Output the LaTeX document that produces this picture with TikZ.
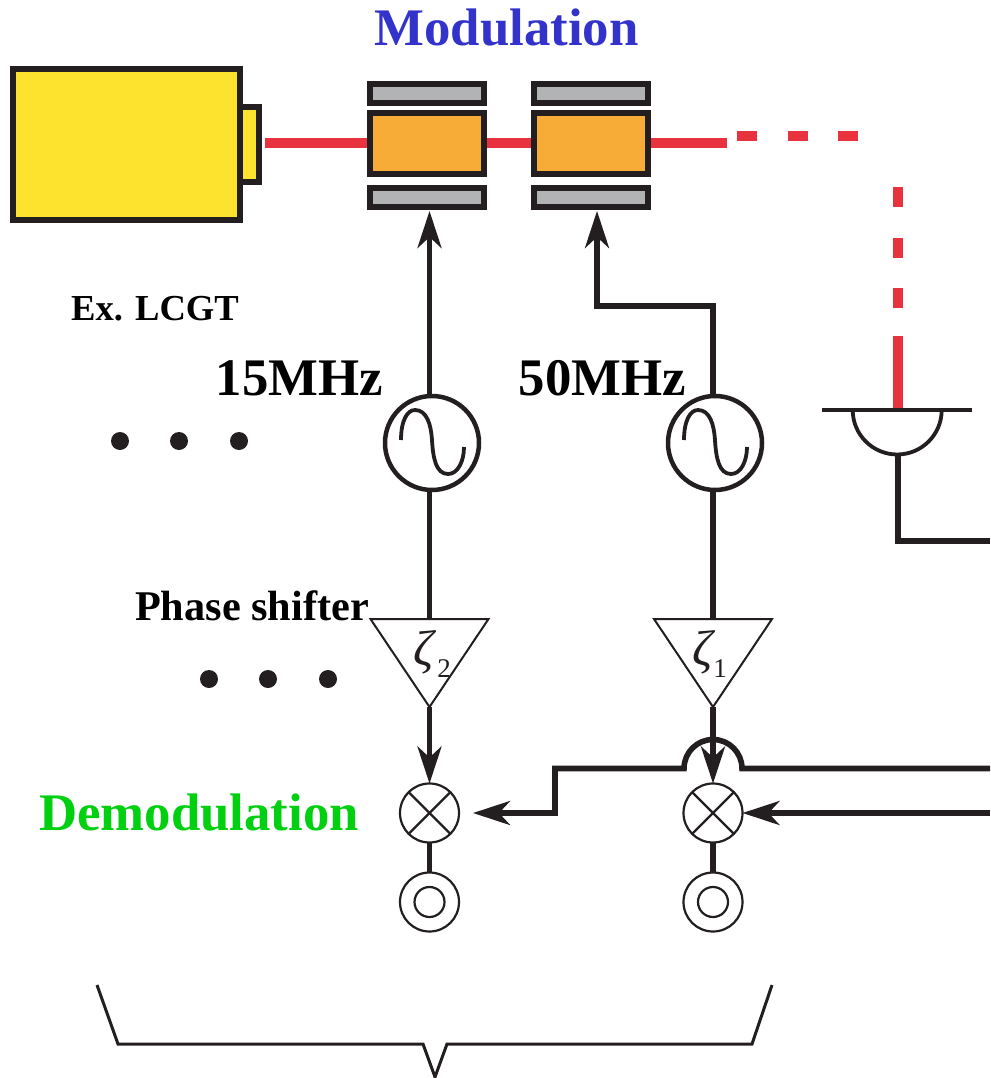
\documentclass[tikz,border=0pt]{standalone}
\usepackage{fontspec}
\setmainfont{Liberation Serif}
\usetikzlibrary{arrows.meta,shapes.geometric,calc}
\definecolor{ink}{HTML}{231F20}
\definecolor{beamred}{HTML}{E8333F}
\definecolor{laseryellow}{HTML}{FEE32E}
\definecolor{eomorange}{HTML}{F7AC38}
\definecolor{plategray}{HTML}{B1B3B5}
\definecolor{modblue}{HTML}{3333CC}
\definecolor{demodgreen}{HTML}{00D010}
\newcommand{\fs}[1]{\fontsize{#1}{#1}\selectfont}
\tikzset{
  box/.style={draw=ink,line width=5.5pt,rectangle,inner sep=0pt,outer sep=0pt},
  platebox/.style={box,fill=plategray,minimum width=114pt,minimum height=19pt},
  eombox/.style={box,fill=eomorange,minimum width=114pt,minimum height=61pt},
  oscnode/.style={draw=ink,circle,line width=4.5pt,minimum size=94pt,inner sep=0pt,outer sep=0pt,fill=white},
  mixnode/.style={draw=ink,circle,line width=2.2pt,minimum size=59pt,inner sep=0pt,outer sep=0pt,fill=white},
  outnode/.style={draw=ink,circle,line width=2.2pt,minimum size=59pt,inner sep=0pt,outer sep=0pt,fill=white},
  innode/.style={draw=ink,circle,line width=2.2pt,minimum size=30pt,inner sep=0pt,outer sep=0pt},
  shifter/.style={draw=ink,isosceles triangle,isosceles triangle stretches,shape border rotate=270,
    minimum width=118pt,minimum height=88pt,inner sep=0pt,outer sep=0pt,line width=2pt,anchor=apex,fill=white},
  wire/.style={draw=ink,line width=5.2pt},
  sigarrow/.style={wire,-{Stealth[length=37pt,width=24pt,inset=11pt]}},
  beam/.style={draw=beamred,line width=10pt},
  dotmark/.style={circle,fill=ink,minimum size=18pt,inner sep=0pt},
  bigbold/.style={font=\fs{52.8}\bfseries,inner sep=0pt,anchor=base},
}
\begin{document}
\begin{tikzpicture}[x=1pt,y=-1pt]
\useasboundingbox (0,0) rectangle (990,1078);

% coordinates
\coordinate (beamstart) at (265,142.7);
\coordinate (beamend) at (727,142.7);
\coordinate (dashA) at (737,136);
\coordinate (dashB) at (858,136);
\coordinate (dashC) at (897.5,187);
\coordinate (dashD) at (897.5,310);
\coordinate (det) at (897.5,410);
\coordinate (detL) at (822,410);
\coordinate (detR) at (972,410);
\coordinate (right1) at (990,768.5);
\coordinate (right2) at (990,813);
\coordinate (right3) at (990,541);

% laser and modulators
\node[box,fill=laseryellow,minimum width=18.5pt,minimum height=75pt] (snout) at (249.5,144.5) {};
\node[box,fill=laseryellow,minimum width=227pt,minimum height=151pt] (laser) at (126.5,144.5) {};
\coordinate (eomApos) at (427,143.5);
\coordinate (eomBpos) at (591,143.5);
\draw[beam] (beamstart) -- (eomApos |- beamstart);
\draw[beam] (eomApos |- beamstart) -- (eomBpos |- beamstart);
\draw[beam] (eomBpos |- beamstart) -- (beamend);
\node[eombox] (eomA) at (eomApos) {};
\node[eombox] (eomB) at (eomBpos) {};
\node[platebox] (plateAt) at (427,93.5) {};
\node[platebox] (plateAb) at (427,197.5) {};
\node[platebox] (plateBt) at (591,93.5) {};
\node[platebox] (plateBb) at (591,197.5) {};
\draw[beam,dash pattern=on 20pt off 30.5pt] (dashA) -- (dashB);
\draw[beam,dash pattern=on 20pt off 30.5pt] (dashC) -- (dashD);
\draw[beam] (897.5,336) -- (det);

% oscillators, shifters, mixers
\node[oscnode] (oscA) at (432,443) {};
\node[oscnode] (oscB) at (715,443) {};
\node[shifter] (shA) at (429.5,707) {};
\node[shifter] (shB) at (713,707) {};
\node[mixnode] (mixA) at (429.5,813) {};
\node[mixnode] (mixB) at (713,813) {};
\node[outnode] (outA) at (429.5,902) {};
\node[outnode] (outB) at (713,902) {};
\node[innode] (inA) at (outA) {};
\node[innode] (inB) at (outB) {};
\foreach \m in {mixA,mixB}{
  \draw[ink,line width=2.2pt] (\m.45) -- (\m.225);
  \draw[ink,line width=2.2pt] (\m.135) -- (\m.315);
}
\foreach \c in {oscA,oscB}{
  \draw[ink,line width=3.8pt] ($(\c)+(-31,-3)$)
    .. controls ($(\c)+(-31,-22)$) and ($(\c)+(-25,-33)$) .. ($(\c)+(-17,-33)$)
    .. controls ($(\c)+(-5,-33)$) and ($(\c)+(-1,-18)$) .. ($(\c)+(0,-3)$)
    .. controls ($(\c)+(1,15)$) and ($(\c)+(4,31)$) .. ($(\c)+(16,31)$)
    .. controls ($(\c)+(26,31)$) and ($(\c)+(32,18)$) .. ($(\c)+(32,4)$);
}

% signal wires
\draw[sigarrow] (429.5,396) -- ($(429.5,0 |- plateAb.south)+(0,4)$);
\draw[sigarrow] (713,396) -- (713,306) -- (597,306) -- ($(597,0 |- plateBb.south)+(0,4)$);
\draw[wire] (shA.lower side |- oscA.south) -- (shA.lower side);
\draw[wire] (shB.lower side |- oscB.south) -- (shB.lower side);
\draw[wire] (mixA.south) -- (outA.north);
\draw[wire] (mixB.south) -- (outB.north);
\draw[wire,line width=5.6pt] (right1) -- (744,768.5) -- (742,768.5) arc[start angle=0,end angle=-180,radius=29] -- (681,768.5) -- (555,768.5) -- (555,813);
\draw[sigarrow] (shA.apex) -- (mixA.north);
\draw[sigarrow] (shB.apex) -- (mixB.north);
\draw[sigarrow] (557.6,813) -- (473,813);
\draw[sigarrow] (right2) -- (mixB.east);

% detector
\draw[ink,line width=3.8pt] (852.7,410) arc[start angle=180,end angle=0,radius=44.5];
\draw[ink,line width=4pt] (detL) -- (detR);
\draw[wire,line width=5.6pt] (898,454) -- (898,541) -- (right3);

% brace
\draw[ink,line width=3pt] (97,985) -- (118,1044) -- (423,1044) -- (435,1077) -- (447,1044) -- (752,1044) -- (772,985);

% dots
\foreach \n/\x/\y in {a/120/441,b/179/441,c/239/441,d/209/679,e/268/679,f/328/679}{
  \node[dotmark] (dot\n) at (\x,\y) {};
}

% text
\node[bigbold,text=modblue] (tmod) at (506.5,46) {Modulation};
\node[bigbold,text=demodgreen] (tdemod) at (199,830) {Demodulation};
\node[bigbold] (t15) at (299.5,395) {15MHz};
\node[bigbold] (t50) at (602.5,395) {50MHz};
\node[font=\fs{36.6}\bfseries,inner sep=0pt,anchor=base] (tex) at (155,320) {Ex. LCGT};
\node[font=\fs{42.3}\bfseries,inner sep=0pt,anchor=base] (tps) at (252,620) {Phase shifter};
\node[font=\fs{50}\itshape,inner sep=0pt,anchor=base,text=ink] (zetaA) at (424,665) {ζ};
\node[font=\fs{27},inner sep=0pt,anchor=base,text=ink] (subA) at (444,677) {2};
\node[font=\fs{50}\itshape,inner sep=0pt,anchor=base,text=ink] (zetaB) at (703,665) {ζ};
\node[font=\fs{27},inner sep=0pt,anchor=base,text=ink] (subB) at (720,677) {1};
\end{tikzpicture}
\end{document}
